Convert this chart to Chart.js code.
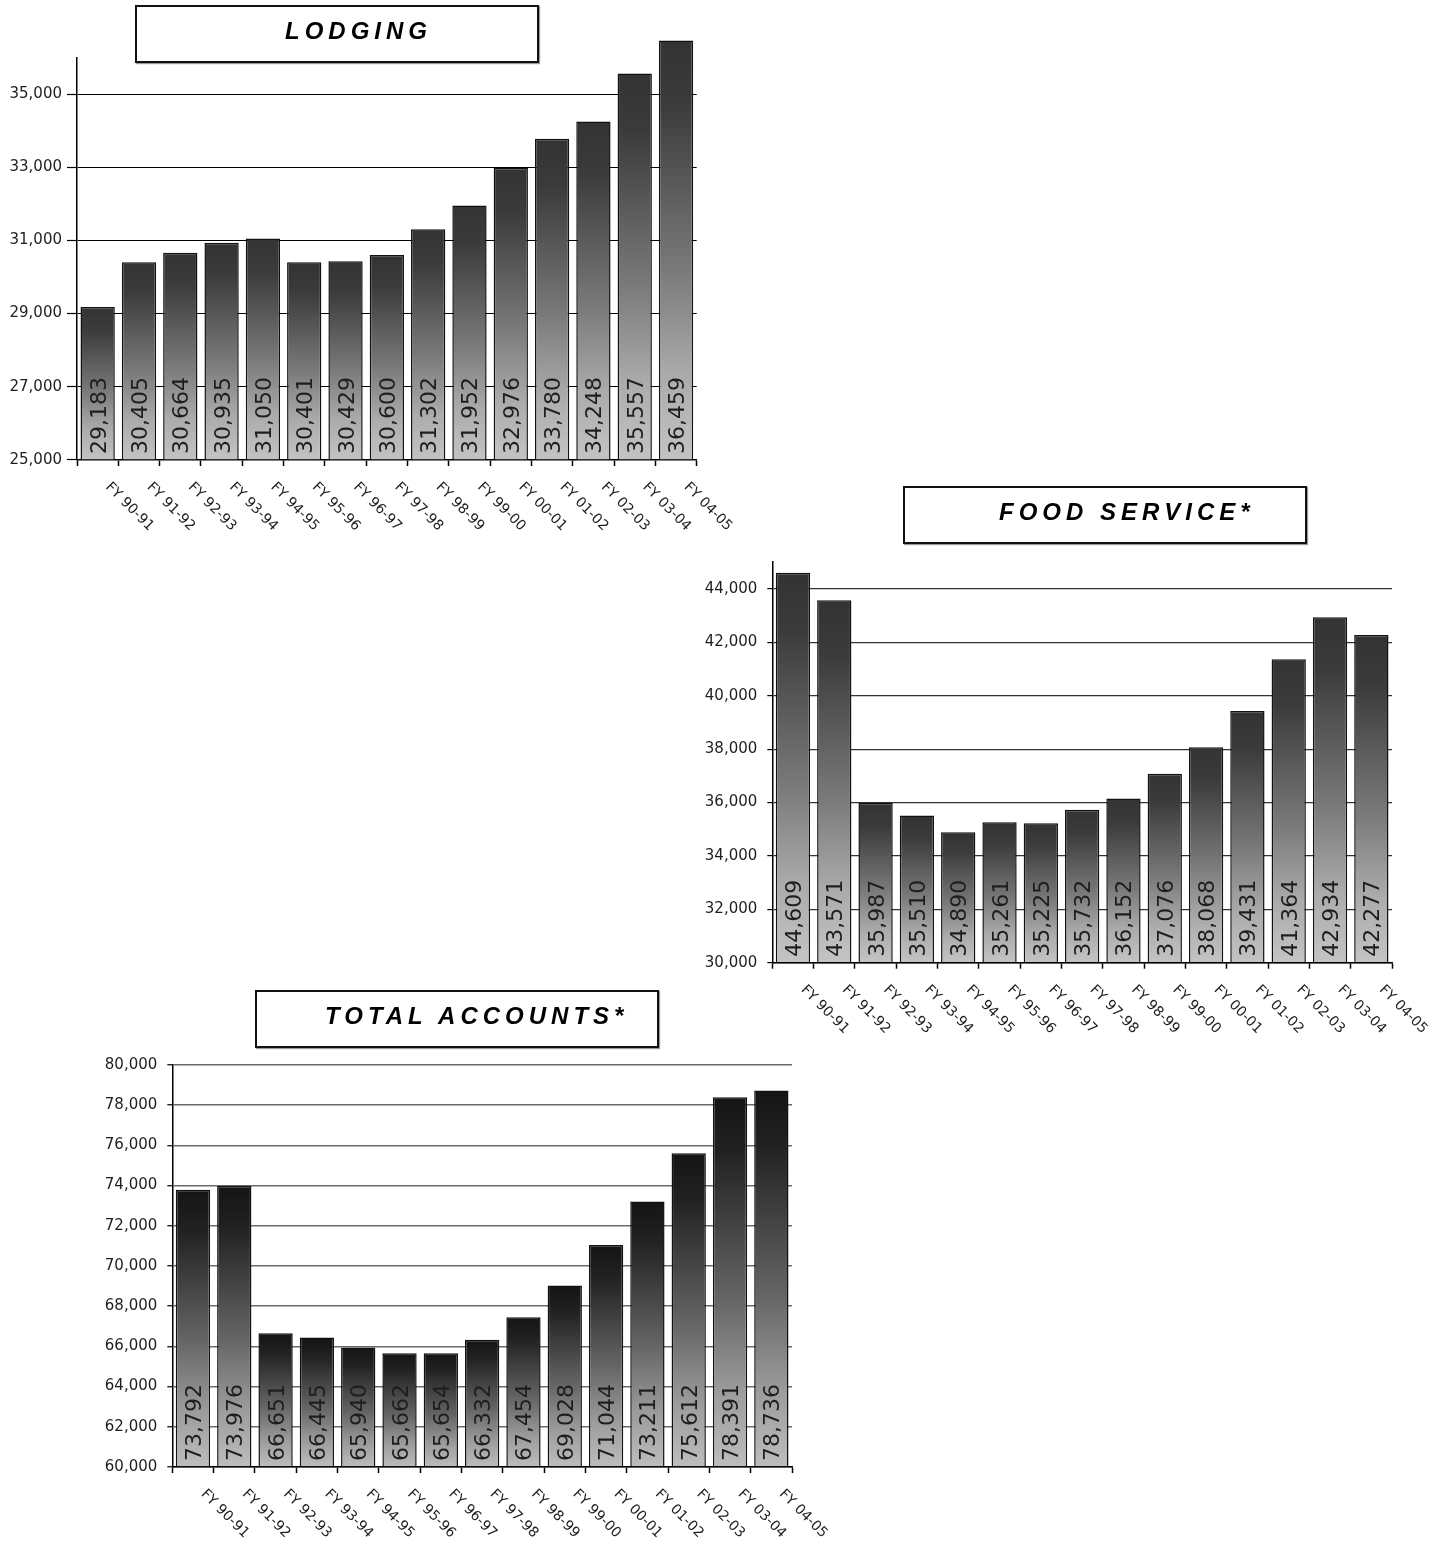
<!DOCTYPE html>
<html>
<head>
<meta charset="utf-8">
<script src="https://cdn.jsdelivr.net/npm/chart.js@4.4.0/dist/chart.umd.min.js"></script>
<style>
html,body{margin:0;padding:0;background:#fff;}
#page{position:relative;width:1452px;height:1547px;overflow:hidden;background:#fff;}
#page canvas{position:absolute;left:0;top:0;}
.title{position:absolute;width:400px;height:54px;border:2px solid #111;background:#fff;box-shadow:1px 1px 1px #999;z-index:5;}
.title span{position:absolute;top:12px;font:italic bold 24px "Liberation Sans",Arial,sans-serif;letter-spacing:5px;white-space:nowrap;color:#000;line-height:1;}
</style>
</head>
<body>
<div id="page">
  <canvas id="c1" width="1452" height="1547"></canvas>
  <canvas id="c2" width="1452" height="1547"></canvas>
  <canvas id="c3" width="1452" height="1547"></canvas>
  <div class="title" style="left:135px;top:5px;"><span style="left:148px;">LODGING</span></div>
  <div class="title" style="left:903px;top:486px;"><span style="left:94px;">FOOD SERVICE*</span></div>
  <div class="title" style="left:255px;top:990px;"><span style="left:68px;">TOTAL ACCOUNTS*</span></div>
</div>
<script>
// ---- data ----
const categories = ['FY 90-91','FY 91-92','FY 92-93','FY 93-94','FY 94-95','FY 95-96','FY 96-97','FY 97-98','FY 98-99','FY 99-00','FY 00-01','FY 01-02','FY 02-03','FY 03-04','FY 04-05'];
const lodgingValues = [29183, 30405, 30664, 30935, 31050, 30401, 30429, 30600, 31302, 31952, 32976, 33780, 34248, 35557, 36459];
const foodValues = [44609, 43571, 35987, 35510, 34890, 35261, 35225, 35732, 36152, 37076, 38068, 39431, 41364, 42934, 42277];
const totalValues = [73792, 73976, 66651, 66445, 65940, 65662, 65654, 66332, 67454, 69028, 71044, 73211, 75612, 78391, 78736];
const lodgingTicks = [25000, 27000, 29000, 31000, 33000, 35000];
const foodTicks = [30000, 32000, 34000, 36000, 38000, 40000, 42000, 44000];
const totalTicks = [60000, 62000, 64000, 66000, 68000, 70000, 72000, 74000, 76000, 78000, 80000];

const W = 1452, H = 1547, YW = 70, XH = 12;
const fmt = v => Number(v).toLocaleString('en-US');

function barGradient(c, stops) {
  const chart = c.chart, ys = chart.scales && chart.scales.y;
  if (c.type !== 'data' || !chart.chartArea || !ys) return stops[stops.length - 1][1];
  const yTop = ys.getPixelForValue(c.raw);
  const yBot = ys.getPixelForValue(ys.min);
  if (!isFinite(yTop) || !isFinite(yBot) || yBot <= yTop) return stops[stops.length - 1][1];
  const g = chart.ctx.createLinearGradient(0, yTop, 0, yBot);
  stops.forEach(s => g.addColorStop(s[0], s[1]));
  return g;
}

const valueLabels = {
  id: 'valueLabels',
  afterDatasetsDraw(chart) {
    const ctx = chart.ctx, meta = chart.getDatasetMeta(0), data = chart.data.datasets[0].data;
    const bottom = chart.chartArea.bottom, size = 22, capH = size * 0.729;
    ctx.save();
    ctx.font = size + 'px "DejaVu Sans", Verdana, sans-serif';
    ctx.fillStyle = '#1e1e1e';
    ctx.textAlign = 'left';
    ctx.textBaseline = 'alphabetic';
    meta.data.forEach((bar, i) => {
      ctx.save();
      ctx.translate(bar.x + capH / 2, bottom - 6);
      ctx.rotate(-Math.PI / 2);
      ctx.fillText(fmt(data[i]), 0, 0);
      ctx.restore();
    });
    ctx.restore();
  }
};

const xLabels = {
  id: 'xLabels',
  afterDraw(chart) {
    const ctx = chart.ctx, xs = chart.scales.x, bottom = chart.chartArea.bottom;
    ctx.save();
    ctx.font = '14px "DejaVu Sans", Verdana, sans-serif';
    ctx.fillStyle = '#1e1e1e';
    ctx.textAlign = 'left';
    ctx.textBaseline = 'middle';
    chart.data.labels.forEach((lab, i) => {
      const px = xs.getPixelForValue(i);
      ctx.save();
      ctx.translate(px + 10, bottom + 25);
      ctx.rotate(Math.PI / 4);
      ctx.fillText(lab, 0, 0);
      ctx.restore();
    });
    ctx.restore();
  }
};

function build(id, values, ticks, o) {
  const a = o.area;
  return new Chart(document.getElementById(id), {
    type: 'bar',
    data: {
      labels: categories,
      datasets: [{
        data: values,
        base: o.min,
        backgroundColor: c => barGradient(c, o.stops),
        borderColor: '#111',
        borderWidth: 1.5,
        barPercentage: 0.83,
        categoryPercentage: 1,
        clip: false
      }]
    },
    options: {
      responsive: false,
      animation: false,
      events: [],
      layout: {
        autoPadding: false,
        padding: { left: a.left - YW, right: W - a.right, top: a.top, bottom: H - a.bottom - XH }
      },
      plugins: { legend: { display: false }, tooltip: { enabled: false }, title: { display: false } },
      scales: {
        x: {
          grid: { offset: true, drawOnChartArea: false, drawTicks: true, tickLength: 6, tickColor: '#000', tickWidth: 1.5 },
          border: { display: true, color: '#000', width: 1.5 },
          ticks: { display: false },
          afterFit: s => { s.height = XH; }
        },
        y: {
          min: o.min, max: o.max,
          afterBuildTicks: s => { s.ticks = ticks.map(v => ({ value: v })); },
          ticks: { padding: o.tickPad, color: '#1e1e1e', font: { family: '"DejaVu Sans", Verdana, sans-serif', size: 15 }, callback: v => fmt(v) },
          grid: { color: o.gridColor, lineWidth: o.gridWidth, drawTicks: true, tickLength: o.tickLen, tickColor: '#000', tickWidth: 1.2 },
          border: { display: true, color: '#000', width: 1.5 },
          afterFit: s => { s.width = YW; }
        }
      }
    },
    plugins: [valueLabels, xLabels]
  });
}

const greyStops = [[0, '#333333'], [0.15, '#3b3b3b'], [0.55, '#7a7a7a'], [0.8, '#ababab'], [1, '#c4c4c4']];
const darkStops = [[0, '#141414'], [0.15, '#222222'], [0.55, '#666666'], [0.8, '#9c9c9c'], [1, '#bdbdbd']];

build('c1', lodgingValues, lodgingTicks, {
  area: { left: 77, right: 696.7, top: 57.4, bottom: 460 },
  min: 25000, max: 36000, stops: greyStops, gridColor: '#000', gridWidth: 1, tickLen: 10, tickPad: 5
});
build('c2', foodValues, foodTicks, {
  area: { left: 772.3, right: 1392, top: 562.2, bottom: 962.7 },
  min: 30000, max: 45000, stops: greyStops, gridColor: '#333', gridWidth: 1.2, tickLen: 5, tickPad: 10
});
build('c3', totalValues, totalTicks, {
  area: { left: 172.3, right: 792, top: 1065, bottom: 1467 },
  min: 60000, max: 80000, stops: darkStops, gridColor: '#6a6a6a', gridWidth: 1.5, tickLen: 5, tickPad: 10
});
</script>
</body>
</html>
